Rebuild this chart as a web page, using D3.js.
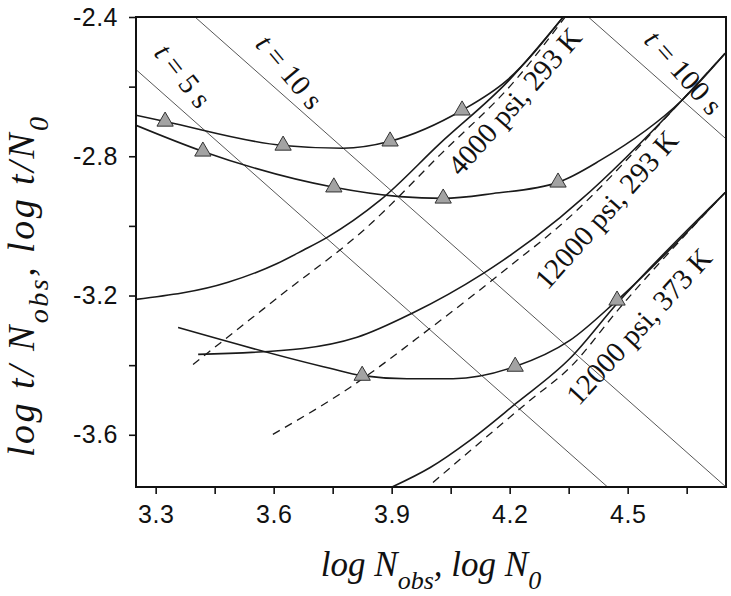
<!DOCTYPE html>
<html>
<head>
<meta charset="utf-8">
<script src="https://cdn.jsdelivr.net/npm/d3@7"></script>
<style>
  body { margin: 0; background: #fff; }
  .axis text { font-family: "Liberation Sans", Arial, sans-serif; font-size: 25px; fill: #111; letter-spacing: 0.5px; }
  .axis line { stroke: #111; stroke-width: 1.6; }
  .axis path { display: none; }
  .lbl { font-family: "Liberation Serif", "Times New Roman", serif; font-size: 29px; fill: #111; }
  .title { font-family: "Liberation Serif", "Times New Roman", serif; font-style: italic; font-size: 35px; fill: #111; }
</style>
</head>
<body>
<svg id="chart"></svg>
<script>
var margin = {top: 17, right: 5, bottom: 109, left: 136},
    width = 731 - margin.left - margin.right,
    height = 596 - margin.top - margin.bottom;

// axis ticks
var xTicks = [3.3, 3.6, 3.9, 4.2, 4.5],
    xMinor = [3.45, 3.75, 4.05, 4.35, 4.65],
    yTicks = [-2.4, -2.8, -3.2, -3.6],
    yMinor = [-2.6, -3.0, -3.4];

// constant-time lines: log t/N = log t - log N
var isoTimes = [5, 10, 100];

// 4000 psi, 293 K
var obs4000 = [[3.25, -2.682], [3.324, -2.700], [3.624, -2.769], [3.776, -2.777], [3.896, -2.757],
               [4.079, -2.668], [4.193, -2.582], [4.336, -2.40]];
var tri4000 = [[3.324, -2.700], [3.624, -2.769], [3.896, -2.757], [4.079, -2.668]];
var n0_4000 = [[3.25, -3.211], [3.484, -3.162], [3.609, -3.108], [3.675, -3.070], [3.736, -3.033],
               [3.870, -2.927], [4.023, -2.763], [4.198, -2.582], [4.336, -2.40]];
var fit4000 = [[3.395, -3.398], [3.616, -3.201], [3.837, -3.004], [4.023, -2.796], [4.214, -2.582], [4.341, -2.40]];

// 12000 psi, 293 K
var obs12k293 = [[3.25, -2.711], [3.420, -2.786], [3.753, -2.889], [3.921, -2.916], [4.031, -2.921],
                 [4.158, -2.907], [4.323, -2.875], [4.430, -2.812], [4.638, -2.639], [4.748, -2.504]];
var tri12k293 = [[3.420, -2.786], [3.753, -2.889], [4.031, -2.921], [4.323, -2.875]];
var n0_12k293 = [[3.408, -3.369], [3.675, -3.352], [3.812, -3.320], [3.952, -3.251], [4.132, -3.137],
                 [4.183, -3.099], [4.328, -2.976], [4.379, -2.927], [4.638, -2.639], [4.748, -2.504]];
var fit12k293 = [[3.598, -3.599], [3.794, -3.464], [3.997, -3.295], [4.219, -3.099], [4.328, -2.999],
                 [4.638, -2.639], [4.748, -2.504]];

// 12000 psi, 373 K
var obs12k373 = [[3.357, -3.292], [3.743, -3.409], [3.825, -3.430], [3.939, -3.439], [4.056, -3.439],
                 [4.214, -3.404], [4.353, -3.329], [4.473, -3.214], [4.748, -2.904]];
var tri12k373 = [[3.825, -3.430], [4.214, -3.404], [4.473, -3.214]];
var n0_12k373 = [[3.901, -3.75], [3.998, -3.694], [4.099, -3.616], [4.216, -3.510], [4.353, -3.381],
                 [4.473, -3.223], [4.748, -2.904]];
var fit12k373 = [[4.005, -3.737], [4.252, -3.501], [4.353, -3.407], [4.481, -3.234], [4.748, -2.904]];

// annotations (text, anchor in data units, rotation)
var notes = [
  {t: "t", rest: " = 5 s",   x: 3.370, y: -2.568, r: 52},
  {t: "t", rest: " = 10 s",  x: 3.641, y: -2.557, r: 50},
  {t: "t", rest: " = 100 s", x: 4.643, y: -2.559, r: 48.5},
  {t: "",  rest: "4000 psi, 293 K",  x: 4.212, y: -2.642, r: -48.5},
  {t: "",  rest: "12000 psi, 293 K", x: 4.445, y: -2.953, r: -48.5},
  {t: "",  rest: "12000 psi, 373 K", x: 4.528, y: -3.288, r: -47.5}
];

var x = d3.scaleLinear().domain([3.25, 4.75]).range([0, width]),
    y = d3.scaleLinear().domain([-3.75, -2.4]).range([height, 0]);

var svg = d3.select("#chart")
    .attr("width", width + margin.left + margin.right)
    .attr("height", height + margin.top + margin.bottom)
  .append("g")
    .attr("transform", "translate(" + margin.left + "," + margin.top + ")");

svg.append("defs").append("clipPath").attr("id", "clip")
  .append("rect").attr("width", width).attr("height", height);

var plot = svg.append("g").attr("clip-path", "url(#clip)");

// thin constant-time lines
plot.selectAll(".iso")
    .data(isoTimes)
  .enter().append("line")
    .attr("class", "iso")
    .attr("x1", x(3.25)).attr("y1", function(t) { return y(Math.log10(t) - 3.25); })
    .attr("x2", x(4.75)).attr("y2", function(t) { return y(Math.log10(t) - 4.75); })
    .style("stroke", "#444")
    .style("stroke-width", 0.9);

var line = d3.line()
    .x(function(d) { return x(d[0]); })
    .y(function(d) { return y(d[1]); })
    .curve(d3.curveMonotoneX);

var curves = [
  {pts: fit4000, dash: "8,6"}, {pts: fit12k293, dash: "8,6"}, {pts: fit12k373, dash: "8,6"},
  {pts: n0_4000, dash: null}, {pts: n0_12k293, dash: null}, {pts: n0_12k373, dash: null},
  {pts: obs4000, dash: null}, {pts: obs12k293, dash: null}, {pts: obs12k373, dash: null}
];

plot.selectAll(".curve")
    .data(curves)
  .enter().append("path")
    .attr("class", "curve")
    .attr("d", function(d) { return line(d.pts); })
    .style("fill", "none")
    .style("stroke", "#1a1a1a")
    .style("stroke-width", function(d) { return d.dash ? 1.3 : 1.6; })
    .style("stroke-dasharray", function(d) { return d.dash; });

// triangle markers
var tri = d3.symbol().type(d3.symbolTriangle).size(115);
svg.selectAll(".mark")
    .data(tri4000.concat(tri12k293, tri12k373))
  .enter().append("path")
    .attr("class", "mark")
    .attr("d", tri)
    .attr("transform", function(d) { return "translate(" + x(d[0]) + "," + y(d[1]) + ")"; })
    .style("fill", "#a3a3a3")
    .style("stroke", "#333")
    .style("stroke-width", 1);

// annotations
var note = svg.selectAll(".lbl")
    .data(notes)
  .enter().append("text")
    .attr("class", "lbl")
    .attr("text-anchor", "middle")
    .attr("dy", "0.35em")
    .attr("transform", function(d) { return "translate(" + x(d.x) + "," + y(d.y) + ") rotate(" + d.r + ")"; });
note.append("tspan").style("font-style", "italic").text(function(d) { return d.t; });
note.append("tspan").text(function(d) { return d.rest; });

// axes
svg.append("g")
    .attr("class", "x axis")
    .attr("transform", "translate(0," + height + ")")
    .call(d3.axisBottom(x)
      .tickValues(xTicks.concat(xMinor))
      .tickSize(7).tickSizeOuter(0).tickPadding(11)
      .tickFormat(function(d) { return xTicks.indexOf(d) >= 0 ? d.toFixed(1) : ""; }));

svg.append("g")
    .attr("class", "y axis")
    .call(d3.axisLeft(y)
      .tickValues(yTicks.concat(yMinor))
      .tickSize(7).tickSizeOuter(0).tickPadding(11)
      .tickFormat(function(d) { return yTicks.indexOf(d) >= 0 ? d.toFixed(1) : ""; }));

svg.append("rect")
    .attr("width", width)
    .attr("height", height)
    .style("fill", "none")
    .style("stroke", "#111")
    .style("stroke-width", 2);

// axis titles
var xt = svg.append("text")
    .attr("class", "title")
    .attr("x", width / 2)
    .attr("y", 559)
    .attr("text-anchor", "middle");
xt.append("tspan").text("log N");
xt.append("tspan").attr("dy", 13).style("font-size", "26px").text("obs");
xt.append("tspan").attr("dy", -13).text(", log N");
xt.append("tspan").attr("dy", 13).style("font-size", "26px").text("0");

var yt = svg.append("text")
    .attr("class", "title")
    .attr("text-anchor", "middle")
    .style("font-size", "38px")
    .attr("textLength", 340)
    .attr("lengthAdjust", "spacing")
    .attr("transform", "translate(" + (34 - margin.left) + "," + (287 - margin.top) + ") rotate(-90)");
yt.append("tspan").text("log t/ N");
yt.append("tspan").attr("dy", 14).style("font-size", "28px").text("obs");
yt.append("tspan").attr("dy", -14).text(",  log t/N");
yt.append("tspan").attr("dy", 14).style("font-size", "28px").text("0");
</script>
</body>
</html>
